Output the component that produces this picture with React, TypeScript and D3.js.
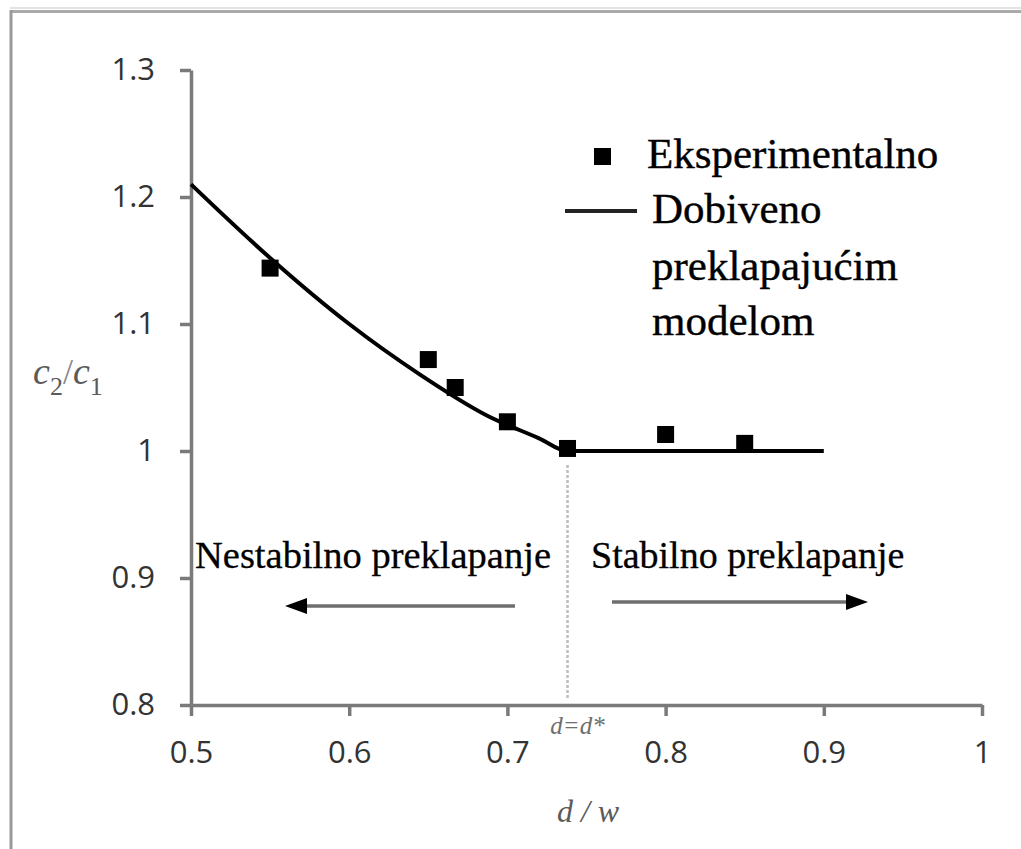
import { useEffect, useRef } from 'react';
import * as d3 from 'd3';

// eksperimentalne tocke
const expX = [0.55, 0.65, 0.667, 0.7, 0.738, 0.8, 0.85];
const expY = [1.144, 1.072, 1.05, 1.023, 1.002, 1.013, 1.006];

// krivulja preklapajuceg modela
const modelX = [0.5, 0.55, 0.6, 0.645, 0.687, 0.72, 0.738, 0.77, 0.8, 0.9];
const modelY = [1.21, 1.152, 1.1, 1.06, 1.028, 1.01, 1.0, 1.0, 1.0, 1.0];

const xTicks = [0.5, 0.6, 0.7, 0.8, 0.9, 1];
const yTicks = [0.8, 0.9, 1.0, 1.1, 1.2, 1.3];
const dStar = 0.738;

const legendLabels = ['Eksperimentalno', 'Dobiveno', 'preklapajućim', 'modelom'];

export default function App() {
  const svgRef = useRef<SVGSVGElement>(null);

  useEffect(() => {
    if (!svgRef.current) return;
    const svg = d3.select(svgRef.current);
    svg.selectAll('*').remove();

    const width = 1021;
    const height = 849;
    svg.attr('width', width).attr('height', height);

    const x = d3.scaleLinear().domain([0.5, 1]).range([191, 982]);
    const y = d3.scaleLinear().domain([0.8, 1.3]).range([705, 70]);

    const serif = '"Liberation Serif", "Times New Roman", serif';
    const sans = '"Open Sans", "Liberation Sans", sans-serif';

    // okvir
    svg.append('line').attr('x1', 10).attr('x2', width).attr('y1', 8).attr('y2', 8)
      .attr('stroke', '#e2e2e2').attr('stroke-width', 2);
    svg.append('line').attr('x1', 10).attr('x2', width).attr('y1', 11.5).attr('y2', 11.5)
      .attr('stroke', '#aaaaaa').attr('stroke-width', 3);
    svg.append('line').attr('x1', 11).attr('x2', 11).attr('y1', 10).attr('y2', height)
      .attr('stroke', '#999999').attr('stroke-width', 3);

    // osi
    const xAxis = svg.append('g')
      .attr('transform', `translate(0,${y(0.8)})`)
      .call(d3.axisBottom(x).tickValues(xTicks).tickSize(11).tickSizeOuter(0).tickPadding(25)
        .tickFormat(d => d3.format('~g')(d as number)));
    const yAxis = svg.append('g')
      .attr('transform', `translate(${x(0.5)},0)`)
      .call(d3.axisLeft(y).tickValues(yTicks).tickSize(11).tickSizeOuter(0).tickPadding(25)
        .tickFormat(d => d3.format('~g')(d as number)));

    [xAxis, yAxis].forEach(a => {
      a.select('.domain').attr('stroke', '#7a7a7a').attr('stroke-width', 3.5);
      a.selectAll('.tick line').attr('stroke', '#7a7a7a').attr('stroke-width', 3.5);
      a.selectAll('.tick text')
        .attr('fill', '#333')
        .attr('font-family', sans)
        .attr('font-size', '31px');
    });

    // isprekidana linija d = d*
    svg.append('line')
      .attr('x1', x(dStar)).attr('x2', x(dStar))
      .attr('y1', 465).attr('y2', 700)
      .attr('stroke', '#bdbdbd').attr('stroke-width', 2.5)
      .attr('stroke-dasharray', '3,2');

    svg.append('text')
      .attr('x', x(dStar) + 10).attr('y', 734)
      .attr('text-anchor', 'middle')
      .attr('font-family', serif).attr('font-style', 'italic')
      .attr('font-size', '25px').attr('fill', '#6e6e6e')
      .text('d=d*');

    // model
    const line = d3.line<number>()
      .x((_, i) => x(modelX[i]))
      .y(d => y(d))
      .curve(d3.curveMonotoneX);
    svg.append('path')
      .datum(modelY)
      .attr('d', line)
      .attr('fill', 'none')
      .attr('stroke', '#000')
      .attr('stroke-width', 4);

    // tocke
    const ms = 17;
    svg.selectAll('.pt')
      .data(expY)
      .enter()
      .append('rect')
      .attr('class', 'pt')
      .attr('x', (_, i) => x(expX[i]) - ms / 2)
      .attr('y', d => y(d) - ms / 2)
      .attr('width', ms)
      .attr('height', ms)
      .attr('fill', '#000');

    // legenda
    svg.append('rect').attr('x', 594).attr('y', 148).attr('width', ms).attr('height', ms).attr('fill', '#000');
    svg.append('line').attr('x1', 565).attr('x2', 637).attr('y1', 211).attr('y2', 211)
      .attr('stroke', '#222').attr('stroke-width', 4);
    const legendPos = [[647, 168], [652, 223], [652, 280], [652, 335]];
    legendLabels.forEach((t, i) => {
      svg.append('text')
        .attr('x', legendPos[i][0]).attr('y', legendPos[i][1])
        .attr('font-family', serif).attr('font-size', '43px').attr('fill', '#000')
        .attr('stroke', '#000').attr('stroke-width', 0.4)
        .text(t);
    });

    // oznake podrucja
    svg.append('text').attr('x', 195).attr('y', 568)
      .attr('font-family', serif).attr('font-size', '38.5px').attr('fill', '#000')
      .attr('stroke', '#000').attr('stroke-width', 0.3)
      .text('Nestabilno preklapanje');
    svg.append('text').attr('x', 591).attr('y', 568)
      .attr('font-family', serif).attr('font-size', '38px').attr('fill', '#000')
      .attr('stroke', '#000').attr('stroke-width', 0.3)
      .text('Stabilno preklapanje');

    // strelice
    const arrow = (x1: number, x2: number, yy: number) => {
      const dir = Math.sign(x2 - x1);
      const headLen = 22;
      svg.append('line')
        .attr('x1', x1).attr('x2', x2 - dir * headLen + dir * 2)
        .attr('y1', yy).attr('y2', yy)
        .attr('stroke', '#6e6e6e').attr('stroke-width', 3.5);
      svg.append('path')
        .attr('d', `M${x2},${yy} L${x2 - dir * headLen},${yy - 8} L${x2 - dir * headLen},${yy + 8} Z`)
        .attr('fill', '#000');
    };
    arrow(515, 285, 606);
    arrow(612, 868, 602);

    // naslovi osi
    const yt = svg.append('text')
      .attr('x', 33).attr('y', 384)
      .attr('font-family', serif).attr('font-size', '38px').attr('fill', '#5a5a5a');
    yt.append('tspan').attr('font-style', 'italic').text('c');
    yt.append('tspan').attr('font-size', '26px').attr('dy', 11).text('2');
    yt.append('tspan').attr('font-size', '36px').attr('dy', -11).attr('fill', '#8a8a8a').text('/');
    yt.append('tspan').attr('font-style', 'italic').text('c');
    yt.append('tspan').attr('font-size', '26px').attr('dy', 11).text('1');

    svg.append('text')
      .attr('x', 588).attr('y', 822)
      .attr('text-anchor', 'middle')
      .attr('font-family', serif).attr('font-style', 'italic')
      .attr('font-size', '32px').attr('fill', '#5a5a5a')
      .attr('xml:space', 'preserve')
      .text('d / w');
  }, []);

  return (
    <svg
      ref={svgRef}
      style={{ position: 'absolute', left: 0, top: 0, display: 'block', background: '#fff' }}
    ></svg>
  );
}
